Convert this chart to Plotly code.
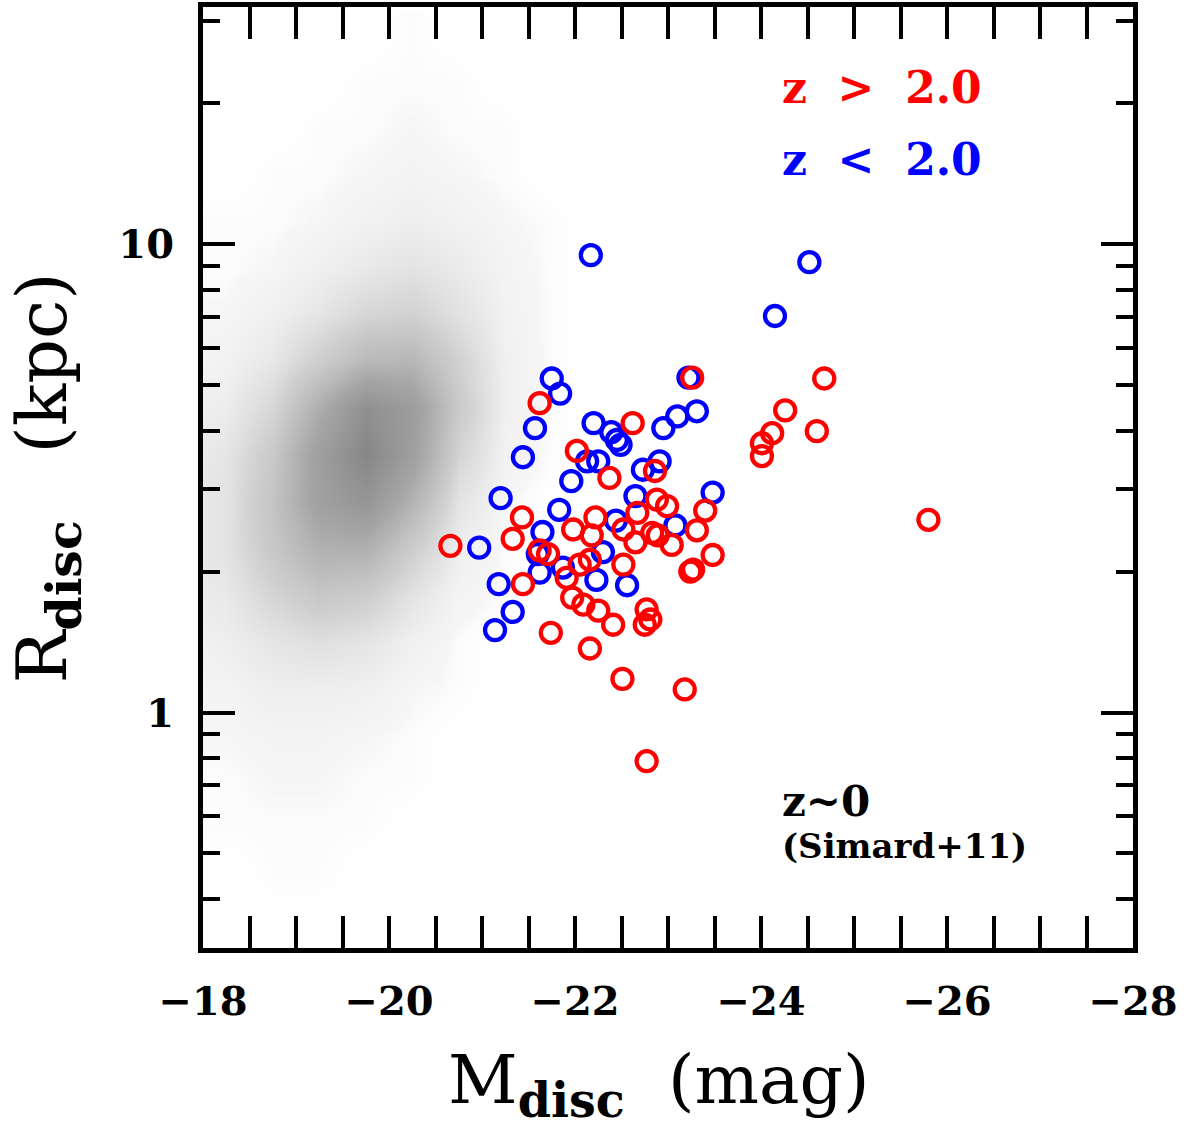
import plotly.graph_objects as go

# ---------------- data ----------------
# z > 2.0 sample (red)
red_M = [-23.26, -24.68, -24.26, -24.12, -24.01, -24.01, -24.60, -25.80, -21.62, -22.62,
         -22.02, -22.86, -22.37, -22.88, -22.99, -23.40, -21.43, -22.22, -22.67, -20.66,
         -21.33, -21.98, -22.18, -22.52, -22.83, -22.89, -23.04, -22.65, -23.31, -21.62,
         -21.71, -22.05, -22.16, -22.52, -23.48, -23.27, -23.24, -21.91, -21.44, -21.97,
         -22.09, -22.25, -22.41, -22.77, -22.81, -22.75, -21.74, -22.16, -22.51, -23.18,
         -22.77]
red_R = [5.19, 5.17, 4.42, 3.95, 3.76, 3.53, 3.99, 2.58, 4.58, 4.15,
         3.62, 3.28, 3.17, 2.85, 2.76, 2.70, 2.61, 2.61, 2.67, 2.27,
         2.35, 2.46, 2.39, 2.46, 2.42, 2.39, 2.28, 2.31, 2.45, 2.22,
         2.18, 2.07, 2.12, 2.07, 2.17, 2.02, 2.00, 1.94, 1.88, 1.76,
         1.70, 1.65, 1.54, 1.66, 1.58, 1.54, 1.48, 1.37, 1.18, 1.12,
         0.787]

# z < 2.0 sample (blue)
blue_M = [-22.17, -24.52, -24.15, -23.22, -21.75, -21.84, -22.20, -21.57, -22.39, -22.45,
          -22.49, -22.95, -23.10, -23.31, -21.44, -22.13, -22.25, -22.73, -22.91, -21.96,
          -21.20, -22.65, -23.48, -21.83, -22.44, -23.08, -21.65, -20.97, -22.30, -21.60,
          -21.62, -21.87, -22.23, -22.56, -21.18, -21.33, -21.14]
blue_R = [9.48, 9.16, 7.03, 5.19, 5.17, 4.80, 4.15, 4.05, 3.97, 3.82,
          3.73, 4.05, 4.29, 4.40, 3.51, 3.44, 3.44, 3.30, 3.44, 3.12,
          2.87, 2.90, 2.95, 2.71, 2.57, 2.51, 2.43, 2.25, 2.20, 2.18,
          1.99, 2.04, 1.92, 1.87, 1.88, 1.64, 1.50]

# z~0 (Simard+11) background: estimated relative point density
# columns: M_disc bin centres; rows: log10(R_disc) bin centres (top to bottom)
bg_M = [-18.0, -18.25, -18.75, -19.25, -19.75, -20.25, -20.75, -21.25, -21.75, -22.25, -22.75]
bg_logR = [1.45, 1.35, 1.25, 1.15, 1.05, 0.95, 0.85, 0.75, 0.65, 0.55,
           0.45, 0.35, 0.25, 0.15, 0.05, -0.05, -0.15, -0.25, -0.35, -0.45]
bg_density = [
    [0, 0, 0, 0, 0, 1, 0, 0, 0, 0, 0],
    [0, 0, 0, 0, 1, 1, 1, 0, 0, 0, 0],
    [0, 0, 0, 1, 1, 2, 1, 1, 0, 0, 0],
    [0, 0, 1, 1, 2, 3, 2, 1, 0, 0, 0],
    [1, 1, 1, 2, 4, 6, 4, 2, 1, 0, 0],
    [1, 1, 2, 5, 9, 12, 8, 3, 1, 0, 0],
    [2, 2, 5, 11, 19, 22, 13, 4, 1, 0, 0],
    [3, 4, 10, 24, 40, 42, 22, 5, 1, 0, 0],
    [6, 7, 19, 48, 78, 64, 27, 5, 1, 0, 0],
    [9, 11, 28, 62, 88, 62, 20, 4, 1, 0, 0],
    [10, 12, 32, 60, 72, 44, 12, 2, 0, 0, 0],
    [10, 12, 29, 46, 46, 25, 6, 1, 0, 0, 0],
    [8, 9, 20, 29, 25, 12, 3, 1, 0, 0, 0],
    [5, 6, 11, 14, 11, 5, 1, 0, 0, 0, 0],
    [3, 3, 6, 6, 5, 2, 1, 0, 0, 0, 0],
    [2, 2, 3, 3, 2, 1, 0, 0, 0, 0, 0],
    [1, 1, 2, 2, 1, 1, 0, 0, 0, 0, 0],
    [1, 1, 1, 1, 1, 0, 0, 0, 0, 0, 0],
    [0, 0, 1, 1, 0, 0, 0, 0, 0, 0, 0],
    [0, 0, 0, 0, 0, 0, 0, 0, 0, 0, 0],
]

x_major = [-18, -20, -22, -24, -26, -28]
x_major_labels = ["\u221218", "\u221220", "\u221222", "\u221224", "\u221226", "\u221228"]
y_major = [1, 10]
y_major_labels = ["1", "10"]
y_minor = [0.4, 0.5, 0.6, 0.7, 0.8, 0.9, 2, 3, 4, 5, 6, 7, 8, 9, 20, 30]

Y_LOG_RANGE = [-0.503, 1.507]

# ---------------- figure ----------------
fig = go.Figure()

# background density on a hidden linear axis (y) holding log10(R)
fig.add_trace(go.Heatmap(
    x=bg_M, y=bg_logR, z=bg_density, yaxis="y",
    zsmooth="best", showscale=False, hoverinfo="skip",
    colorscale=[[0, "rgba(255,255,255,0)"], [0.02, "#f6f6f6"], [0.25, "#d0d0d0"],
                [0.6, "#a6a6a6"], [1, "#858585"]],
    zmin=0, zmax=90,
))

circle_style = dict(symbol="circle-open", size=20)
fig.add_trace(go.Scatter(
    x=blue_M, y=blue_R, mode="markers", name="z < 2.0", yaxis="y2",
    marker=dict(**circle_style, color="#0000ff", line=dict(width=4.3, color="#0000ff")),
))
fig.add_trace(go.Scatter(
    x=red_M, y=red_R, mode="markers", name="z > 2.0", yaxis="y2",
    marker=dict(**circle_style, color="#ff0000", line=dict(width=4.3, color="#ff0000")),
))

tickfont = dict(family="DejaVu Serif", size=40, color="black", weight="bold")

fig.update_xaxes(
    range=[-18, -28], tickmode="array", tickvals=x_major, ticktext=x_major_labels,
    ticks="inside", ticklen=32, tickwidth=4, tickcolor="black",
    showline=True, linewidth=5, linecolor="black", mirror="allticks",
    showgrid=False, zeroline=False, tickfont=tickfont, ticklabelstandoff=14,
    minor=dict(dtick=0.5, tick0=-18, ticks="inside", ticklen=17, tickwidth=4,
               tickcolor="black", showgrid=False),
)
fig.update_layout(
    yaxis=dict(
        range=Y_LOG_RANGE, showgrid=False, zeroline=False, showticklabels=False,
        ticks="", showline=False,
    ),
    yaxis2=dict(
        overlaying="y", side="left",
        type="log", range=Y_LOG_RANGE, tickmode="array", tickvals=y_major,
        ticktext=y_major_labels,
        ticks="inside", ticklen=32, tickwidth=4, tickcolor="black",
        showline=True, linewidth=5, linecolor="black", mirror="allticks",
        showgrid=False, zeroline=False, tickfont=tickfont, ticklabelstandoff=16,
        minor=dict(tickmode="array", tickvals=y_minor, ticks="inside", ticklen=17,
                   tickwidth=4, tickcolor="black", showgrid=False),
    ),
)

ann_font = dict(family="DejaVu Serif", size=44, weight="bold")
fig.add_annotation(x=0.620, y=0.914, xref="paper", yref="paper",
                   xanchor="left", yanchor="middle", showarrow=False,
                   text="z  &gt;  2.0", font=dict(**ann_font, color="#ff0000"))
fig.add_annotation(x=0.620, y=0.838, xref="paper", yref="paper",
                   xanchor="left", yanchor="middle", showarrow=False,
                   text="z  &lt;  2.0", font=dict(**ann_font, color="#0000ff"))
fig.add_annotation(x=0.620, y=0.156, xref="paper", yref="paper",
                   xanchor="left", yanchor="middle", showarrow=False,
                   text="z~0",
                   font=dict(family="DejaVu Serif", size=42, color="black", weight="bold"))
fig.add_annotation(x=0.620, y=0.108, xref="paper", yref="paper",
                   xanchor="left", yanchor="middle", showarrow=False,
                   text="(Simard+11)",
                   font=dict(family="DejaVu Serif", size=34, color="black", weight="bold"))

# axis titles
fig.add_annotation(x=0.49, y=-0.145, xref="paper", yref="paper",
                   xanchor="center", yanchor="middle", showarrow=False,
                   text="M<sub><b>disc</b></sub>  (mag)",
                   font=dict(family="DejaVu Serif", size=68, color="black"))
fig.add_annotation(x=-0.168, y=0.5, xref="paper", yref="paper",
                   xanchor="center", yanchor="middle", showarrow=False, textangle=-90,
                   text="R<sub><b>disc</b></sub>   (kpc)",
                   font=dict(family="DejaVu Serif", size=70, color="black"))

fig.update_layout(
    width=1184, height=1136,
    margin=dict(l=203, r=51, t=2, b=188),
    paper_bgcolor="white", plot_bgcolor="white",
    showlegend=False,
)

fig.write_html("out.html")
